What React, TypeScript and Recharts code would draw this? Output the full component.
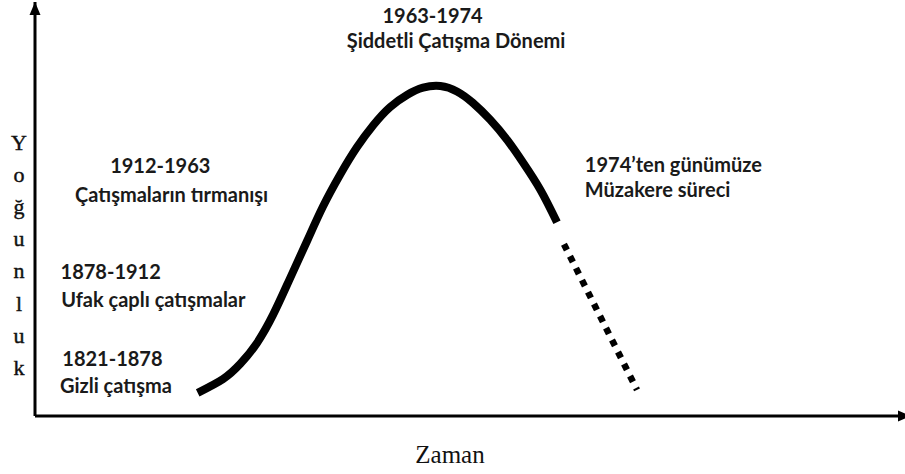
import React from 'react'
import { ComposedChart, Line, XAxis, YAxis, ReferenceDot } from 'recharts'

// main curve (arbitrary time units vs. intensity)
const time = [18.7, 21.6, 23.6, 25.5, 27.4, 29.3, 31.3, 33.1, 35.1, 37.0, 38.9, 40.8, 42.8, 44.6, 46.6, 48.5, 50.3, 52.3, 54.3, 56.1, 58.1, 60.0]
const intensity = [5.6, 8.9, 12.6, 17.6, 24.6, 33.2, 42.4, 50.6, 58.4, 64.9, 70.3, 74.6, 77.6, 79.3, 79.7, 78.4, 75.7, 71.6, 66.6, 61.2, 54.6, 46.8]

// dotted continuation (negotiation period)
const futureTime = [60.8, 69.2]
const futureIntensity = [41.5, 6.3]

const phaseYears = ['1821-1878', '1878-1912', '1912-1963', '1963-1974', '1974’ten günümüze']
const phaseNames = ['Gizli çatışma', 'Ufak çaplı çatışmalar', 'Çatışmaların tırmanışı', 'Şiddetli Çatışma Dönemi', 'Müzakere süreci']

const yTitle = 'Yoğunluk'
const xTitle = 'Zaman'

const curve = time.map((t, i) => ({ t, v: intensity[i] }))
const future = futureTime.map((t, i) => ({ t, v: futureIntensity[i] }))

// where each text line sits, in chart units (anchor point + text-anchor)
const yearPos: [number, number, 'middle' | 'start'][] = [
  [8.9, 12.1, 'middle'], [8.7, 33.1, 'middle'], [14.4, 58.7, 'middle'], [45.7, 94.9, 'middle'], [63.2, 58.9, 'start'],
]
const namePos: [number, number, 'middle' | 'start'][] = [
  [9.3, 5.6, 'middle'], [13.6, 26.3, 'middle'], [15.7, 51.7, 'middle'], [48.4, 88.9, 'middle'], [63.2, 52.9, 'start'],
]

const labelFont = { fontFamily: 'Lato, "Open Sans", sans-serif', fontWeight: 700, fontSize: 20, fill: '#1a1a1a' }
const serif = { fontFamily: '"Liberation Serif", "DejaVu Serif", serif', fill: '#111' }

const textShape = (text: string, anchor: 'middle' | 'start') => (p: any) => (
  <text x={p.cx} y={p.cy} textAnchor={anchor} {...labelFont}>{text}</text>
)

const upArrow = (p: any) => <path d={`M${p.cx},${p.cy} L${p.cx - 5.5},${p.cy + 13} L${p.cx + 5.5},${p.cy + 13} Z`} fill="#000" />
const rightArrow = (p: any) => <path d={`M${p.cx + 6},${p.cy} L${p.cx - 7},${p.cy - 5.5} L${p.cx - 7},${p.cy + 5.5} Z`} fill="#000" />

export default function App() {
  const lines = [
    ...phaseYears.map((s, i) => ({ s, pos: yearPos[i] })),
    ...phaseNames.map((s, i) => ({ s, pos: namePos[i] })),
  ]
  return (
    <div style={{ position: 'absolute', left: 0, top: 0, width: 905, height: 474, background: '#fff' }}>
      <ComposedChart width={905} height={474} margin={{ top: 2, right: 0, left: 0, bottom: 0 }}>
        <XAxis
          type="number" dataKey="t" domain={[0, 100]} allowDataOverflow height={58}
          tick={false} tickLine={false} axisLine={{ stroke: '#000', strokeWidth: 3 }}
          label={{
            content: () => <text x={450} y={463} textAnchor="middle" fontSize={25} {...serif}>{xTitle}</text>,
          }}
        />
        <YAxis
          type="number" dataKey="v" domain={[0, 100]} allowDataOverflow width={35}
          tick={false} tickLine={false} axisLine={{ stroke: '#000', strokeWidth: 3 }}
          label={{
            content: () => (
              <text textAnchor="middle" fontSize={22} stroke="#111" strokeWidth={0.4} {...serif}>
                {yTitle.split('').map((c, i) => <tspan key={i} x={19} y={150 + i * 32.1}>{c}</tspan>)}
              </text>
            ),
          }}
        />
        <Line data={curve} dataKey="v" type="natural" stroke="#000" strokeWidth={8} dot={false} activeDot={false} isAnimationActive={false} />
        <Line data={future} dataKey="v" type="linear" stroke="#000" strokeWidth={6.5} strokeDasharray="6.5 6.9" dot={false} activeDot={false} isAnimationActive={false} />
        <ReferenceDot x={0} y={100} r={0} ifOverflow="visible" shape={upArrow} />
        <ReferenceDot x={100} y={0} r={0} ifOverflow="visible" shape={rightArrow} />
        {lines.map(({ s, pos }) => (
          <ReferenceDot key={s} x={pos[0]} y={pos[1]} r={0} ifOverflow="visible" shape={textShape(s, pos[2])} />
        ))}
      </ComposedChart>
    </div>
  )
}
